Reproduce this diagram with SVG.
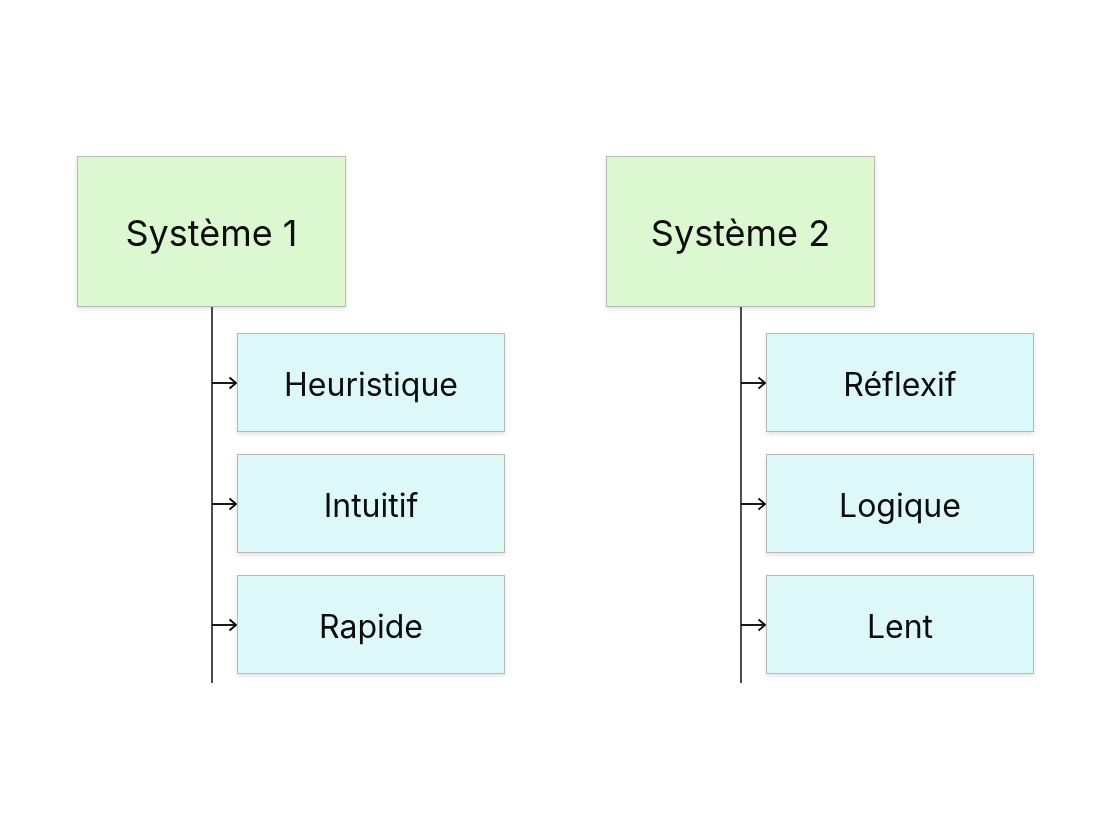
<svg xmlns="http://www.w3.org/2000/svg" width="1111" height="839" viewBox="0 0 1111 839">
<style>
.p{fill:#dcf8d0;stroke:#b8b8b8;stroke-width:1}
.c{fill:#ddf8f8;stroke:#b8b8b8;stroke-width:1}
.t{font-family:Inter,"Noto Sans",sans-serif;fill:#0a0a0a;text-anchor:middle;dominant-baseline:central}
.big{font-size:36px}
.sm{font-size:32px}
.l{stroke:#000;stroke-width:1.4;fill:none}
.a{stroke:#000;stroke-width:1.8;fill:none}
</style>
<defs>
<filter id="sh" x="-10%" y="-10%" width="120%" height="130%"><feDropShadow dx="0" dy="2" stdDeviation="2" flood-color="#000" flood-opacity="0.12"/></filter>
<marker id="ar" markerWidth="12" markerHeight="14" refX="10" refY="7" orient="auto" markerUnits="userSpaceOnUse"><path d="M3.5,1.5 L10,7 L3.5,12.5" fill="none" stroke="#000" stroke-width="1.8"/></marker>
</defs>
<g id="connectors">
<path class="l" d="M212,307 V683"/>
<path class="a" d="M212,383 H236" marker-end="url(#ar)"/>
<path class="a" d="M212,504 H236" marker-end="url(#ar)"/>
<path class="a" d="M212,625 H236" marker-end="url(#ar)"/>
<path class="l" d="M741,307 V683"/>
<path class="a" d="M741,383 H765" marker-end="url(#ar)"/>
<path class="a" d="M741,504 H765" marker-end="url(#ar)"/>
<path class="a" d="M741,625 H765" marker-end="url(#ar)"/>
</g>
<g id="s1" filter="url(#sh)"><rect class="p" x="77.5" y="156.5" width="268" height="150"/><text class="t big" x="211.5" y="233">Système 1</text></g>
<g id="s2" filter="url(#sh)"><rect class="p" x="606.5" y="156.5" width="268" height="150"/><text class="t big" x="740.5" y="233">Système 2</text></g>
<g id="heuristique" filter="url(#sh)"><rect class="c" x="237.5" y="333.5" width="267" height="98"/><text class="t sm" x="371" y="384">Heuristique</text></g>
<g id="intuitif" filter="url(#sh)"><rect class="c" x="237.5" y="454.5" width="267" height="98"/><text class="t sm" x="371" y="505">Intuitif</text></g>
<g id="rapide" filter="url(#sh)"><rect class="c" x="237.5" y="575.5" width="267" height="98"/><text class="t sm" x="371" y="626">Rapide</text></g>
<g id="reflexif" filter="url(#sh)"><rect class="c" x="766.5" y="333.5" width="267" height="98"/><text class="t sm" x="900" y="384">Réflexif</text></g>
<g id="logique" filter="url(#sh)"><rect class="c" x="766.5" y="454.5" width="267" height="98"/><text class="t sm" x="900" y="505">Logique</text></g>
<g id="lent" filter="url(#sh)"><rect class="c" x="766.5" y="575.5" width="267" height="98"/><text class="t sm" x="900" y="626">Lent</text></g>
</svg>
